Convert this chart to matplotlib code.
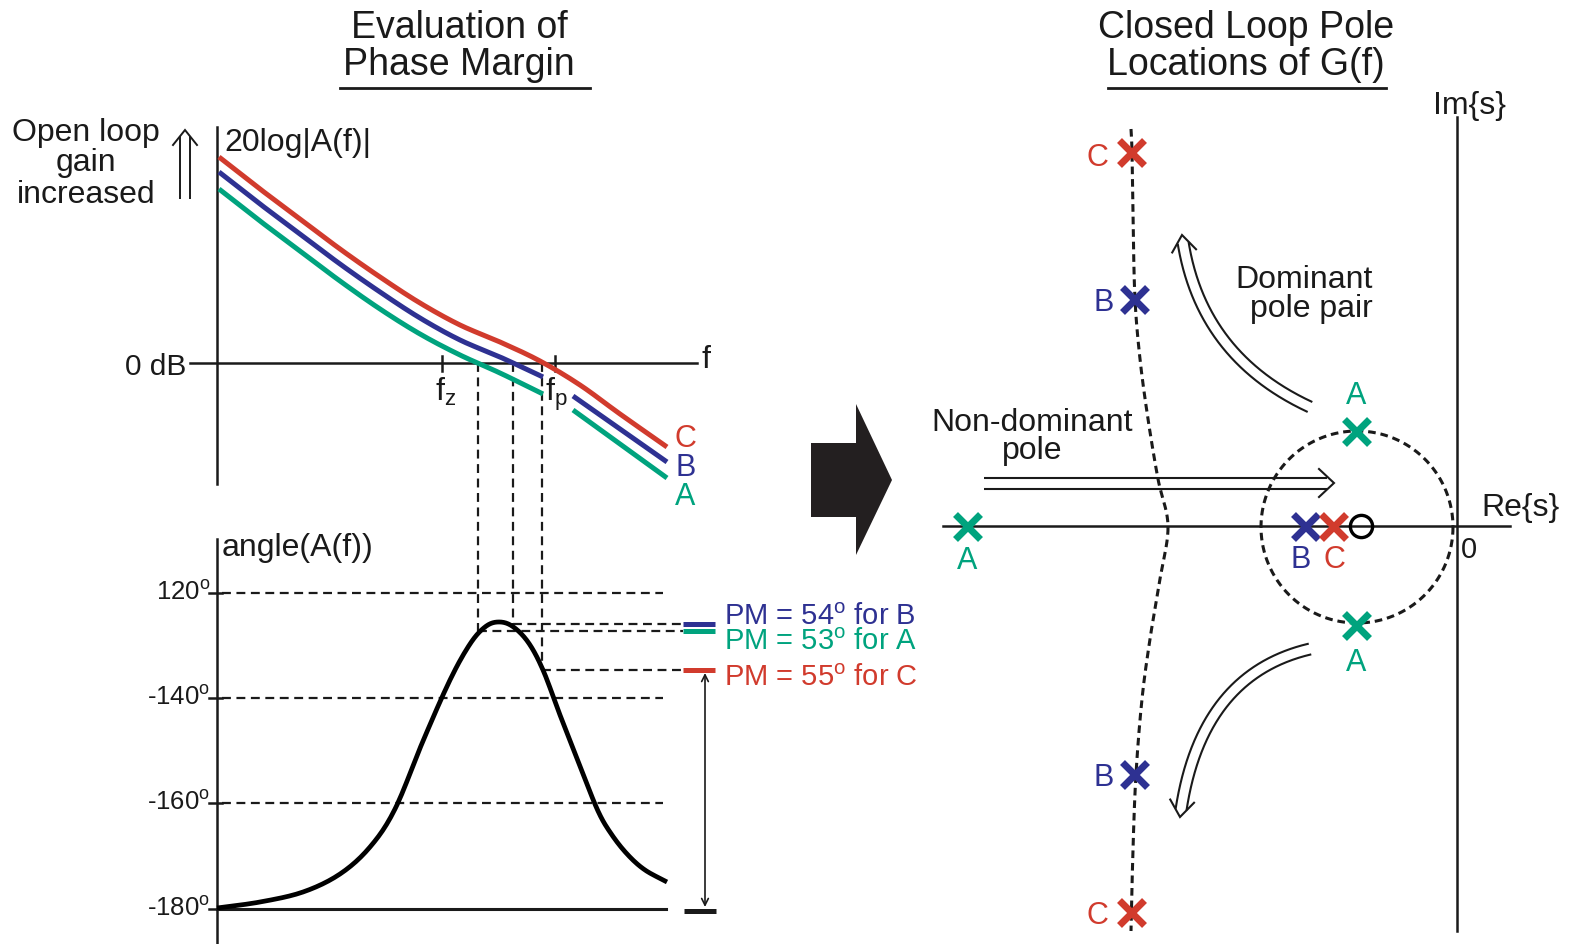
import numpy as np
import matplotlib
matplotlib.use("Agg")
import matplotlib.pyplot as plt
from matplotlib.patches import Polygon

plt.rcParams['font.family'] = ['Liberation Sans', 'DejaVu Sans']
plt.rcParams['mathtext.fontset'] = 'custom'
plt.rcParams['mathtext.rm'] = 'Liberation Sans'
plt.rcParams['mathtext.it'] = 'Liberation Sans'
plt.rcParams['mathtext.bf'] = 'Liberation Sans'

RED = '#d13b2d'
BLUE = '#2e3192'
GREEN = '#00a37e'
INK = '#1a1a1a'

# ---------------- data (diagram units = picture pixels) ----------------
# Open-loop gain curves
gain_x = [219, 260, 300, 340, 380, 420, 460, 500, 540, 580, 620, 667]
gain_C = [158, 190, 220, 250, 278, 304, 326, 343, 362, 386, 415, 448]
gain_lo_x = [219, 260, 300, 340, 380, 420, 460, 500, 543]
gain_B_lo = [173, 205, 235, 265, 293, 319, 341, 358, 378]
gain_A_lo = [190, 222, 252, 282, 310, 335, 356, 374, 395]
gain_hi_x = [573, 620, 667]
gain_B_hi = [397, 430, 463]
gain_A_hi = [411, 445, 479]
zero_db_y = 364
fz_x, fp_x = 442, 555

# Phase curve
phase_x = [217, 260, 303, 340, 370, 395, 423, 450, 470, 485, 498,
           512, 528, 543, 560, 580, 598, 612, 628, 645, 667]
phase_y = [909, 903, 893, 875, 848, 810, 742, 681, 645, 628, 623,
           627, 643, 671, 716, 767, 812, 836, 856, 871, 883]
phase_tick_labels = ['120', '-140', '-160', '-180']
phase_tick_y = [594, 699, 804, 910]

# Phase margin read-outs (crossover x, phase level y)
pm_names = ['B', 'A', 'C']
pm_values = [54, 53, 55]
pm_colors = [BLUE, GREEN, RED]
pm_cross_x = [513, 478, 542]
pm_level_y = [625, 632, 671]
pm_text_y = [615, 640, 676]

# Closed-loop poles
poles_A = ([967, 1356, 1356], [527, 432, 626])
poles_B = ([1305, 1134, 1134], [527, 300, 775])
poles_C = ([1333, 1131, 1131], [527, 153, 913])
zero_pt = (1361, 527)
pole_labels = [('A', GREEN, 967, 558), ('A', GREEN, 1356, 393), ('A', GREEN, 1356, 660),
               ('B', BLUE, 1301, 557), ('C', RED, 1334, 557),
               ('B', BLUE, 1104, 300), ('B', BLUE, 1104, 775),
               ('C', RED, 1097, 155), ('C', RED, 1097, 913)]
locus_x = [1131, 1132, 1133, 1135, 1140, 1148, 1158, 1168, 1160, 1150, 1142, 1136, 1133, 1131]
locus_y = [130, 153, 220, 300, 360, 420, 480, 527, 580, 640, 700, 775, 850, 932]
circle_c = (1357, 528)
circle_r = 96

# Hollow arrows (start, control, end)
arrow_nondom = [(984, 484), (1160, 484), (1334, 484)]
arrow_up = [(1310, 408), (1198, 356), (1182, 236)]
arrow_down = [(1310, 650), (1199, 676), (1180, 818)]
arrow_gain = [(185, 200), (185, 165), (185, 131)]
big_arrow = [(811, 444), (856, 444), (856, 405), (892, 481), (856, 556), (856, 518), (811, 518)]

# ---------------- helpers ----------------
def smooth(xs, ys, n=20):
    P = np.column_stack([xs, ys]).astype(float)
    P = np.vstack([2 * P[0] - P[1], P, 2 * P[-1] - P[-2]])
    out = []
    t = np.linspace(0, 1, n, endpoint=False)[:, None]
    for i in range(1, len(P) - 2):
        p0, p1, p2, p3 = P[i - 1], P[i], P[i + 1], P[i + 2]
        seg = 0.5 * ((2 * p1) + (-p0 + p2) * t + (2 * p0 - 5 * p1 + 4 * p2 - p3) * t ** 2
                     + (-p0 + 3 * p1 - 3 * p2 + p3) * t ** 3)
        out.append(seg)
    out.append(P[-2][None, :])
    return np.vstack(out)


def txt(ax, x, yc, s, size, color=INK, ha='center'):
    cap = 0.716 * size * 100 / 72
    ax.text(x, yc + cap / 2, s, fontsize=size, color=color, ha=ha, va='baseline')


def hollow_arrow(ax, ctrl, gap=5.5, L=16, W=14, lw=1.5):
    P0, P1, P2 = [np.array(p, float) for p in ctrl]
    t = np.linspace(0, 1, 300)[:, None]
    B = (1 - t) ** 2 * P0 + 2 * (1 - t) * t * P1 + t ** 2 * P2
    d = np.gradient(B, axis=0)
    d /= np.linalg.norm(d, axis=1)[:, None]
    nrm = np.column_stack([-d[:, 1], d[:, 0]])
    tip = B[-1]
    dt = d[-1]
    nt = nrm[-1]
    cut = L * gap / W
    keep = np.linalg.norm(B - tip, axis=1) >= cut
    first_bad = np.argmax(~keep) if (~keep).any() else len(B)
    keep = np.arange(len(B)) < first_bad
    left = B[keep] + nrm[keep] * gap
    right = B[keep] - nrm[keep] * gap
    ax.plot(left[:, 0], left[:, 1], color=INK, lw=lw, solid_capstyle='butt')
    ax.plot(right[:, 0], right[:, 1], color=INK, lw=lw, solid_capstyle='butt')
    a1 = tip - dt * L + nt * W
    a2 = tip - dt * L - nt * W
    ax.plot([a1[0], tip[0], a2[0]], [a1[1], tip[1], a2[1]], color=INK, lw=lw,
            solid_joinstyle='miter')


# ---------------- figure ----------------
fig = plt.figure(figsize=(15.72, 9.45), dpi=100)
ax = fig.add_axes([0, 0, 1, 1])
ax.set_xlim(0, 1572)
ax.set_ylim(945, 0)
ax.axis('off')

DASH = (0, (4, 2.5))
FS = 23

# Titles
txt(ax, 459, 25, 'Evaluation of', 27)
txt(ax, 459, 62, 'Phase Margin', 27)
ax.plot([340, 590], [89, 89], color=INK, lw=2)
txt(ax, 1246, 25, 'Closed Loop Pole', 27)
txt(ax, 1246, 62, 'Locations of G(f)', 27)
ax.plot([1108, 1386], [89, 89], color=INK, lw=2)

# ---- gain plot ----
ax.plot([217, 217], [128, 485], color=INK, lw=1.8)
ax.plot([190, 697], [zero_db_y, zero_db_y], color=INK, lw=1.8)
for fx in (fz_x, fp_x):
    ax.plot([fx, fx], [357, 372], color=INK, lw=1.8)
txt(ax, 186, 364, '0 dB', 21.5, ha='right')
txt(ax, 701, 357, 'f', FS, ha='left')
txt(ax, 224, 140, '20log|A(f)|', FS, ha='left')
txt(ax, 86, 130, 'Open loop', FS)
txt(ax, 86, 160, 'gain', FS)
txt(ax, 86, 192, 'increased', FS)
ax.text(435, 401, r'f$_{\mathrm{z}}$', fontsize=FS, color=INK, ha='left', va='baseline')
ax.text(545, 401, r'f$_{\mathrm{p}}$', fontsize=FS, color=INK, ha='left', va='baseline')
hollow_arrow(ax, arrow_gain, gap=5, L=15, W=12, lw=1.4)

# crossover dashed verticals and PM levels
for cx, ly in zip(pm_cross_x, pm_level_y):
    ax.plot([cx, cx], [zero_db_y, ly], color=INK, lw=1.6, ls=DASH)
    ax.plot([cx, 683], [ly, ly], color=INK, lw=1.6, ls=DASH)

c = smooth(gain_x, gain_C)
ax.plot(c[:, 0], c[:, 1], color=RED, lw=3.6, solid_capstyle='butt')
for lo, hi, col in [(gain_B_lo, gain_B_hi, BLUE), (gain_A_lo, gain_A_hi, GREEN)]:
    s1 = smooth(gain_lo_x, lo)
    ax.plot(s1[:, 0], s1[:, 1], color=col, lw=3.6, solid_capstyle='butt')
    s2 = smooth(gain_hi_x, hi)
    ax.plot(s2[:, 0], s2[:, 1], color=col, lw=3.6, solid_capstyle='butt')
txt(ax, 675, 436, 'C', 22, color=RED, ha='left')
txt(ax, 675, 465, 'B', 22, color=BLUE, ha='left')
txt(ax, 675, 494, 'A', 22, color=GREEN, ha='left')

# ---- phase plot ----
ax.plot([217, 217], [540, 945], color=INK, lw=1.8)
txt(ax, 222, 545, 'angle(A(f))', FS, ha='left')
for lab, ty in zip(phase_tick_labels, phase_tick_y):
    ax.plot([209, 222], [ty, ty], color=INK, lw=1.8)
    txt(ax, 210, ty - 3, lab + r'$^{\mathrm{o}}$', 18.5, ha='right')
    if lab != '-180':
        ax.plot([222, 663], [ty, ty], color=INK, lw=1.6, ls=DASH)
ax.plot([217, 666], [phase_tick_y[-1], phase_tick_y[-1]], color=INK, lw=2.2)
p = smooth(phase_x, phase_y, n=12)
ax.plot(p[:, 0], p[:, 1], color='black', lw=3.4, solid_capstyle='butt')

for name, val, col, ly, ty in zip(pm_names, pm_values, pm_colors, pm_level_y, pm_text_y):
    ax.plot([683, 715], [ly, ly], color=col, lw=3.6, solid_capstyle='butt')
    txt(ax, 724, ty, 'PM = %d$^{\\mathrm{o}}$ for %s' % (val, name), 21, color=col, ha='left')
ax.plot([684, 716], [phase_tick_y[-1] + 2] * 2, color=INK, lw=3.6, solid_capstyle='butt')
ax.annotate('', xy=(705, 674), xytext=(705, 908),
            arrowprops=dict(arrowstyle='<->', color=INK, lw=1.2, mutation_scale=12,
                            shrinkA=0, shrinkB=0))

# ---- big arrow ----
ax.add_patch(Polygon(big_arrow, closed=True, facecolor='#231f20', edgecolor='none'))

# ---- s-plane ----
ax.plot([1457, 1457], [118, 932], color=INK, lw=1.8)
ax.plot([943, 1510], [527, 527], color=INK, lw=1.8)
txt(ax, 1469, 103, 'Im{s}', FS)
txt(ax, 1481, 505, 'Re{s}', FS, ha='left')
txt(ax, 1469, 548, '0', 21)

th = np.linspace(0, 2 * np.pi, 400)
ax.plot(circle_c[0] + circle_r * np.cos(th), circle_c[1] + circle_r * np.sin(th),
        color=INK, lw=2.2, ls=(0, (2.5, 1.6)))
loc = smooth(locus_x, locus_y, n=20)
ax.plot(loc[:, 0], loc[:, 1], color=INK, lw=2.2, ls=(0, (2.5, 1.6)))

hollow_arrow(ax, arrow_nondom, gap=5.5, L=15, W=14, lw=1.5)
hollow_arrow(ax, arrow_up, gap=5.5, L=16, W=12, lw=1.5)
hollow_arrow(ax, arrow_down, gap=5.5, L=16, W=12, lw=1.5)

txt(ax, 1032, 420, 'Non-dominant', FS)
txt(ax, 1032, 448, 'pole', FS)
txt(ax, 1373, 277, 'Dominant', FS, ha='right')
txt(ax, 1373, 306, 'pole pair', FS, ha='right')

for (xs, ys), col in [(poles_A, GREEN), (poles_B, BLUE), (poles_C, RED)]:
    ax.plot(xs, ys, ls='none', marker='x', ms=18, mew=5, color=col)
ax.plot([zero_pt[0]], [zero_pt[1]], ls='none', marker='o', ms=16, mew=2.4,
        mfc='none', mec='black')
for lab, col, x, y in pole_labels:
    txt(ax, x, y, lab, 22, color=col)

fig.savefig('out.png', dpi=100)
